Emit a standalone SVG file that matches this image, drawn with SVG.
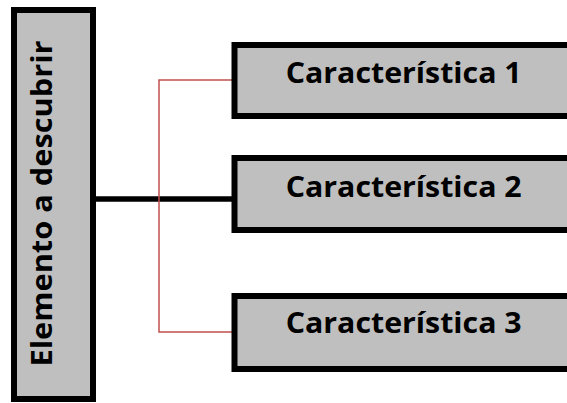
<svg xmlns="http://www.w3.org/2000/svg" width="567" height="403" viewBox="0 0 567 403">
<style>
.box{fill:#bfbfbf;stroke:#000;stroke-width:6}
.lbl{font-family:"Open Sans","Liberation Sans",Arial,sans-serif;font-weight:bold;font-size:29px;fill:#000}
</style>
<rect width="567" height="403" fill="#fff"/>
<g id="connectors" fill="none">
<line x1="95" y1="199" x2="233" y2="199" stroke="#000" stroke-width="5.5"/>
<polyline points="233,80 159,80 159,332 233,332" stroke="#c0504d" stroke-width="1.5"/>
</g>
<g id="elemento">
<rect class="box" x="14" y="10" width="79" height="389"/>
<text class="lbl" transform="translate(51.5,203.5) rotate(-90)" text-anchor="middle" font-size="31" textLength="326" lengthAdjust="spacingAndGlyphs">Elemento a descubrir</text>
</g>
<g id="c1">
<rect class="box" x="234.5" y="45" width="345" height="71"/>
<text class="lbl" x="403.7" y="83" text-anchor="middle" textLength="236" lengthAdjust="spacingAndGlyphs">Característica 1</text>
</g>
<g id="c2">
<rect class="box" x="234.5" y="158" width="345" height="72"/>
<text class="lbl" x="403.7" y="197" text-anchor="middle" textLength="236" lengthAdjust="spacingAndGlyphs">Característica 2</text>
</g>
<g id="c3">
<rect class="box" x="234.5" y="296" width="345" height="73"/>
<text class="lbl" x="403.7" y="333" text-anchor="middle" textLength="236" lengthAdjust="spacingAndGlyphs">Característica 3</text>
</g>
</svg>
